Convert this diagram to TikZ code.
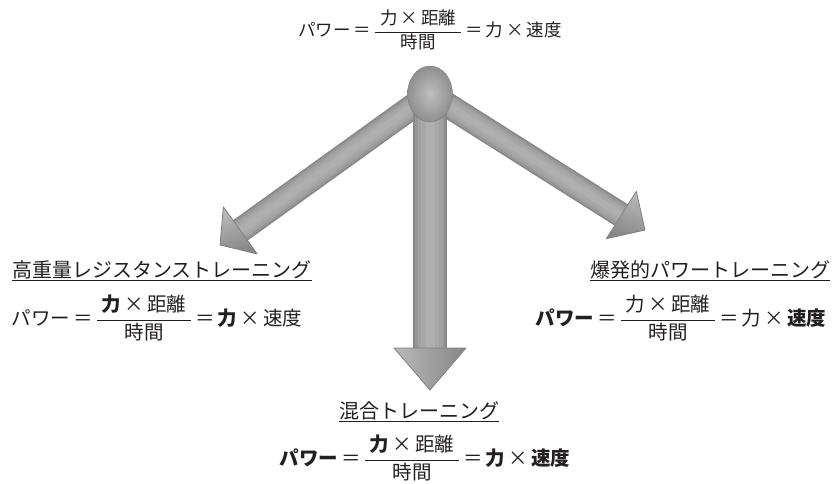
\documentclass[tikz,border=0pt]{standalone}
\usepackage{fontspec}
\setmainfont{Noto Sans CJK JP}
\usetikzlibrary{calc,shapes.geometric}

\definecolor{inkgray}{HTML}{231F20}
\definecolor{armdark}{HTML}{808080}

% power = force x distance / time = force x velocity
\newcommand{\eqsign}{\hspace{3pt}＝\hspace{3pt}}
\newcommand{\powereq}[4]{#1\eqsign$\displaystyle\frac{\mbox{\hspace{5pt}#2\,×\,距離\hspace{5pt}}}{\mbox{時間}}$\eqsign#3\,×\,#4}

\begin{document}
\begin{tikzpicture}[
    x=1pt, y=-1pt,
    font=\fontsize{19.5}{23}\selectfont,
    head/.style={draw=armdark, line width=0.8pt, line join=round,
        top color=gray!55, bottom color=gray!95, shading angle=#1},
    formula/.style={inner sep=0pt, text=inkgray},
    title/.style={inner sep=0pt, text=inkgray, font=\fontsize{20}{24}\selectfont}
]
\useasboundingbox (0,0) rectangle (835,484);

% === Hub and arrow tips ===
\coordinate (hub) at (430,94);
\coordinate (tipL) at (220,245);
\coordinate (tipD) at (430,390);
\coordinate (tipR) at (645,230);

\coordinate (baseL) at ($(tipL)!25pt!(hub)$);
\coordinate (baseD) at ($(tipD)!42pt!(hub)$);
\coordinate (baseR) at ($(tipR)!28pt!(hub)$);

% === Diagonal arms (stacked strokes give the tube look) ===
\foreach \w/\c in {25/94,22/82,18/74,13/68,7/63}{
    \draw[draw=gray!\c, line width=\w pt] (hub) -- (baseL);
    \draw[draw=gray!\c, line width=\w pt] (hub) -- (baseR);
}
\draw[head=20] (tipL) -- ($(baseL)!29pt!90:(tipL)$) -- ($(baseL)!29pt!-90:(tipL)$) -- cycle;
\draw[head=-20] (tipR) -- ($(baseR)!28pt!90:(tipR)$) -- ($(baseR)!28pt!-90:(tipR)$) -- cycle;

% === Down arm ===
\foreach \w/\c in {34/94,30/82,25/74,18/68,9/63}
    \draw[draw=gray!\c, line width=\w pt] (hub) -- (baseD);
\draw[head=90] (tipD) -- ($(baseD)!36pt!90:(tipD)$) -- ($(baseD)!36pt!-90:(tipD)$) -- cycle;

% ball on top
\node[ellipse, minimum width=45pt, minimum height=56pt, draw=armdark,
    inner color=gray!50, outer color=gray!88] (ball) at (hub) {};

% === Formulas and labels ===
\node[formula, font=\fontsize{17.5}{21}\selectfont] (topeq) at (430,30) {\powereq{パワー}{力}{力}{速度}};

\node[title] (heavy) at (162,271) {\underline{高重量レジスタンストレーニング}};
\node[formula] (heavyeq) at (157,318) {\powereq{パワー}{\textbf{力}}{\textbf{力}}{速度}};

\node[title] (blast) at (710,271) {\underline{爆発的パワートレーニング}};
\node[formula] (blasteq) at (681,318) {\powereq{\textbf{パワー}}{力}{力}{\textbf{速度}}};

\node[title] (mixed) at (419,412) {\underline{混合トレーニング}};
\node[formula] (mixedeq) at (425,458) {\powereq{\textbf{パワー}}{\textbf{力}}{\textbf{力}}{\textbf{速度}}};

\end{tikzpicture}
\end{document}
